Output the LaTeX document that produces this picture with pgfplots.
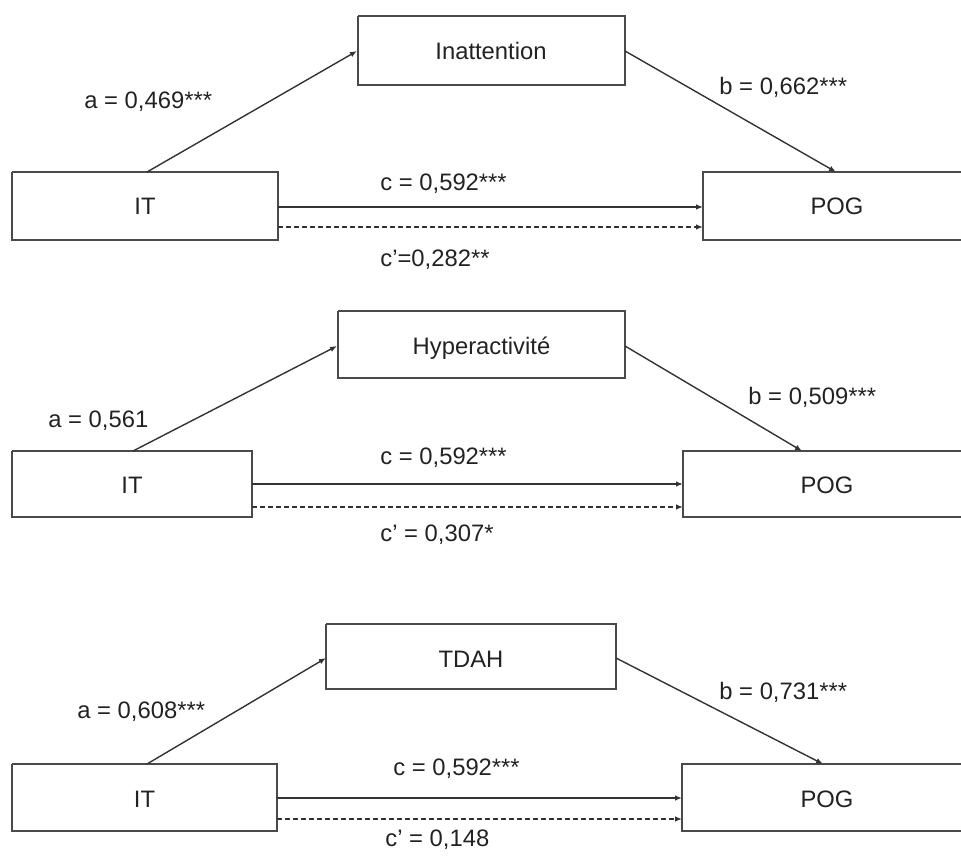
\documentclass[border=0pt]{standalone}
\usepackage{pgfplots}
\pgfplotsset{compat=1.18}
\usepackage{fontspec}
\setmainfont{Liberation Sans}
\usetikzlibrary{arrows.meta}

\definecolor{boxline}{HTML}{4A4A4A}
\definecolor{arrline}{HTML}{333333}
\definecolor{txt}{HTML}{222222}

\begin{document}
\begin{tikzpicture}[font=\fontsize{11.9}{14}\selectfont]
\begin{axis}[
    scale only axis,
    width=480.5pt, height=427.5pt,
    xmin=0, xmax=961, ymin=0, ymax=855,
    y dir=reverse,
    hide axis,
    clip=true,
    nodes={inner sep=0pt, text=txt},
    box/.style={draw=boxline, line width=1pt, no marks},
    arr/.style={draw=arrline, line width=0.7pt, no marks, -{Latex[length=3.5pt,width=2.8pt]}},
    darr/.style={arr, dash pattern=on 2.5pt off 1.5pt},
]
% ---- panel 1 : Inattention
\addplot[box] coordinates {(358,16) (625,16) (625,85) (358,85) (358,16)};
\addplot[box] coordinates {(12,172) (278,172) (278,240) (12,240) (12,172)};
\addplot[box] coordinates {(975,172) (703,172) (703,240) (975,240)};
\addplot[arr] coordinates {(147,172) (357,51)};
\addplot[arr] coordinates {(625,51) (836,172)};
\addplot[arr] coordinates {(278,207) (703,207)};
\addplot[darr] coordinates {(278,227) (703,227)};
\node[anchor=base] at (axis cs:491,60) {Inattention};
\node[anchor=base] at (axis cs:145,215) {IT};
\node[anchor=base] at (axis cs:837,215) {POG};
\node[anchor=base west] at (axis cs:84,109) {a = 0,469***};
\node[anchor=base west] at (axis cs:719,95) {b = 0,662***};
\node[anchor=base west] at (axis cs:380,191) {c = 0,592***};
\node[anchor=base west] at (axis cs:380,266) {c'=0,282**};

% ---- panel 2 : Hyperactivite
\addplot[box] coordinates {(338,311) (625,311) (625,378) (338,378) (338,311)};
\addplot[box] coordinates {(12,451) (252,451) (252,517) (12,517) (12,451)};
\addplot[box] coordinates {(975,451) (683,451) (683,517) (975,517)};
\addplot[arr] coordinates {(133,451) (337,346)};
\addplot[arr] coordinates {(625,346) (802,451)};
\addplot[arr] coordinates {(252,484) (683,484)};
\addplot[darr] coordinates {(252,507) (683,507)};
\node[anchor=base] at (axis cs:481.5,354) {Hyperactivité};
\node[anchor=base] at (axis cs:132,493) {IT};
\node[anchor=base] at (axis cs:827,493) {POG};
\node[anchor=base west] at (axis cs:48,427) {a = 0,561};
\node[anchor=base west] at (axis cs:748,404) {b = 0,509***};
\node[anchor=base west] at (axis cs:380,464) {c = 0,592***};
\node[anchor=base west] at (axis cs:380,541) {c' = 0,307*};

% ---- panel 3 : TDAH
\addplot[box] coordinates {(326,624) (616,624) (616,689) (326,689) (326,624)};
\addplot[box] coordinates {(12,764) (277,764) (277,831) (12,831) (12,764)};
\addplot[box] coordinates {(975,764) (682,764) (682,831) (975,831)};
\addplot[arr] coordinates {(147,764) (326,658)};
\addplot[arr] coordinates {(616,658) (823,764)};
\addplot[arr] coordinates {(277,798) (682,798)};
\addplot[darr] coordinates {(277,819) (682,819)};
\node[anchor=base] at (axis cs:471,667) {TDAH};
\node[anchor=base] at (axis cs:144.5,807) {IT};
\node[anchor=base] at (axis cs:827,807) {POG};
\node[anchor=base west] at (axis cs:77,718) {a = 0,608***};
\node[anchor=base west] at (axis cs:719,699) {b = 0,731***};
\node[anchor=base west] at (axis cs:393,775) {c = 0,592***};
\node[anchor=base west] at (axis cs:385,846) {c' = 0,148};
\end{axis}
\pgfresetboundingbox
\path (current axis.south west) rectangle (current axis.north east);
\end{tikzpicture}
\end{document}
